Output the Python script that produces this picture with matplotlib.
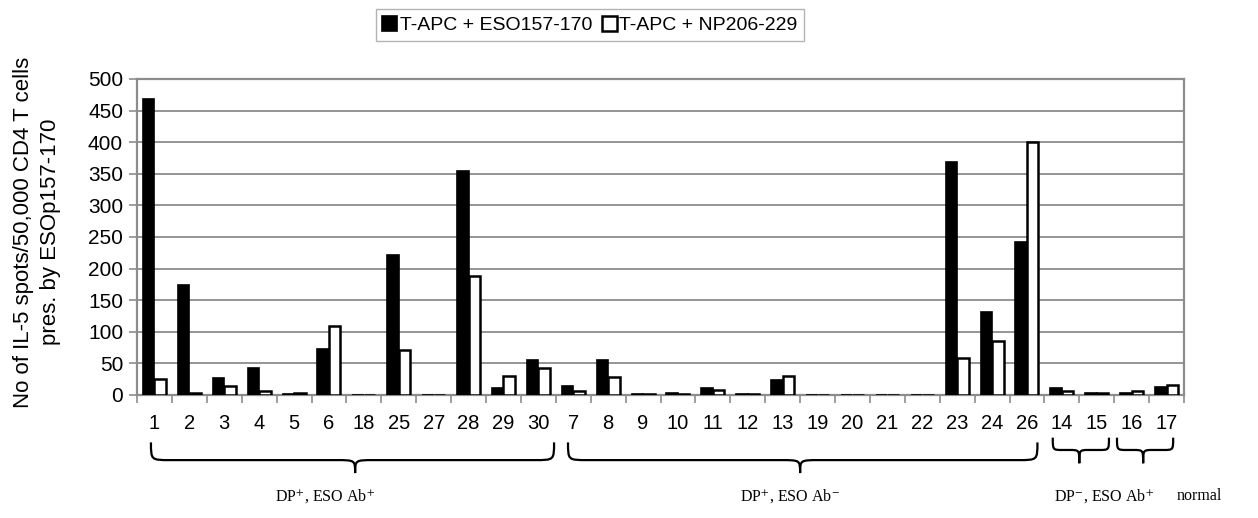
#!/usr/bin/env python3
"""IL-5 spots per 50,000 CD4 T cells, grouped bar chart with braces."""

import matplotlib

matplotlib.use("Agg")
import matplotlib.pyplot as plt
import matplotlib.transforms as mtransforms
import numpy as np
from matplotlib.patches import PathPatch
from matplotlib.path import Path

plt.rcParams["font.family"] = ["Liberation Sans", "DejaVu Sans"]
plt.rcParams["mathtext.fontset"] = "stix"

patients = ["1", "2", "3", "4", "5", "6", "18", "25", "27", "28", "29", "30",
            "7", "8", "9", "10", "11", "12", "13", "19", "20", "21", "22", "23", "24", "26",
            "14", "15", "16", "17"]
eso_spots = [468, 174, 27, 42, 2, 72, 0, 221, 0, 355, 11, 55,
             15, 55, 2, 3, 11, 2, 23, 0, 0, 0, 0, 368, 132, 242,
             11, 3, 3, 13]
np_spots = [25, 3, 15, 7, 3, 109, 0, 71, 0, 188, 30, 43,
            7, 28, 2, 2, 8, 1, 30, 0, 0, 0, 0, 59, 85, 401,
            6, 3, 7, 16]
series_names = ["T-APC + ESO157-170", "T-APC + NP206-229"]

group_labels = ["DP$^{+}$, ESO Ab$^{+}$", "DP$^{+}$, ESO Ab$^{-}$",
                "DP$^{-}$, ESO Ab$^{+}$", "normal"]
label_x = [4.9, 18.2, 27.2, 29.95]

GRID = "#8c8c8c"


def brace(ax, x0, x1, xtip, ytop, yarm, ytip, r):
    trans = mtransforms.blended_transform_factory(ax.transData, ax.transAxes)
    verts = [(x0, ytop), (x0, yarm), (x0, yarm), (x0 + r, yarm),
             (xtip - r, yarm),
             (xtip, yarm), (xtip, yarm), (xtip, ytip),
             (xtip, yarm), (xtip, yarm), (xtip + r, yarm),
             (x1 - r, yarm),
             (x1, yarm), (x1, yarm), (x1, ytop)]
    codes = [Path.MOVETO, Path.CURVE4, Path.CURVE4, Path.CURVE4,
             Path.LINETO,
             Path.CURVE4, Path.CURVE4, Path.CURVE4,
             Path.CURVE4, Path.CURVE4, Path.CURVE4,
             Path.LINETO,
             Path.CURVE4, Path.CURVE4, Path.CURVE4]
    ax.add_patch(PathPatch(Path(verts, codes), transform=trans, fill=False,
                           lw=1.6, color="black", clip_on=False))


fig = plt.figure(figsize=(12.58, 5.18), dpi=100)
ax = fig.add_axes([137 / 1258, 1 - 395 / 518, 1047 / 1258, 316 / 518])

x = np.arange(len(patients))
w = 0.33
b1 = ax.bar(x - w / 2, eso_spots, w, color="black", edgecolor="black", lw=1.2, zorder=3)
b2 = ax.bar(x + w / 2, np_spots, w, color="white", edgecolor="black", lw=1.8, zorder=3)

ax.set_xlim(-0.5, len(patients) - 0.5)
ax.set_ylim(0, 500)
ax.set_yticks(np.arange(0, 501, 50))
ax.yaxis.grid(True, color=GRID, lw=1.3)
ax.set_axisbelow(True)
for s in ax.spines.values():
    s.set_color(GRID)
    s.set_linewidth(1.6)

ax.set_xticks(np.arange(len(patients) + 1) - 0.5)
ax.set_xticklabels([])
ax.set_xticks(x, minor=True)
ax.set_xticklabels(patients, minor=True, fontsize=14.5)
ax.tick_params(axis="x", which="major", direction="out", length=6, color=GRID, width=1.2)
ax.tick_params(axis="x", which="minor", length=0, pad=14)
ax.tick_params(axis="y", direction="out", length=6, color=GRID, width=1.2,
               labelsize=15, pad=4)

fig.text(37 / 1258, 1 - 232 / 518,
         "No of IL-5 spots/50,000 CD4 T cells\npres. by ESOp157-170",
         rotation=90, ha="center", va="center", multialignment="center",
         fontsize=16, linespacing=1.35)

brace(ax, -0.1, 11.45, 5.75, -0.150, -0.206, -0.247, 0.55)
brace(ax, 11.85, 25.3, 18.5, -0.150, -0.206, -0.247, 0.55)
brace(ax, 25.74, 27.35, 26.5, -0.135, -0.174, -0.216, 0.28)
brace(ax, 27.58, 29.19, 28.33, -0.135, -0.174, -0.216, 0.28)

ltrans = mtransforms.blended_transform_factory(ax.transData, ax.transAxes)
for text, xc in zip(group_labels, label_x):
    ax.text(xc, -0.320, text, transform=ltrans, ha="center", va="center",
            fontsize=11.5, family=["Liberation Serif", "DejaVu Serif"], clip_on=False)

leg = fig.legend([b1, b2], series_names, loc="lower center",
                 bbox_to_anchor=(590 / 1258, 1 - 41 / 518), ncol=2, fontsize=14,
                 frameon=True, fancybox=False, handlelength=0.75, handleheight=0.75,
                 handletextpad=0.15, columnspacing=0.5, borderpad=0.35, borderaxespad=0)
leg.get_frame().set_edgecolor("#a0a0a0")
leg.get_frame().set_linewidth(1.0)

fig.savefig("out.png", dpi=100)
